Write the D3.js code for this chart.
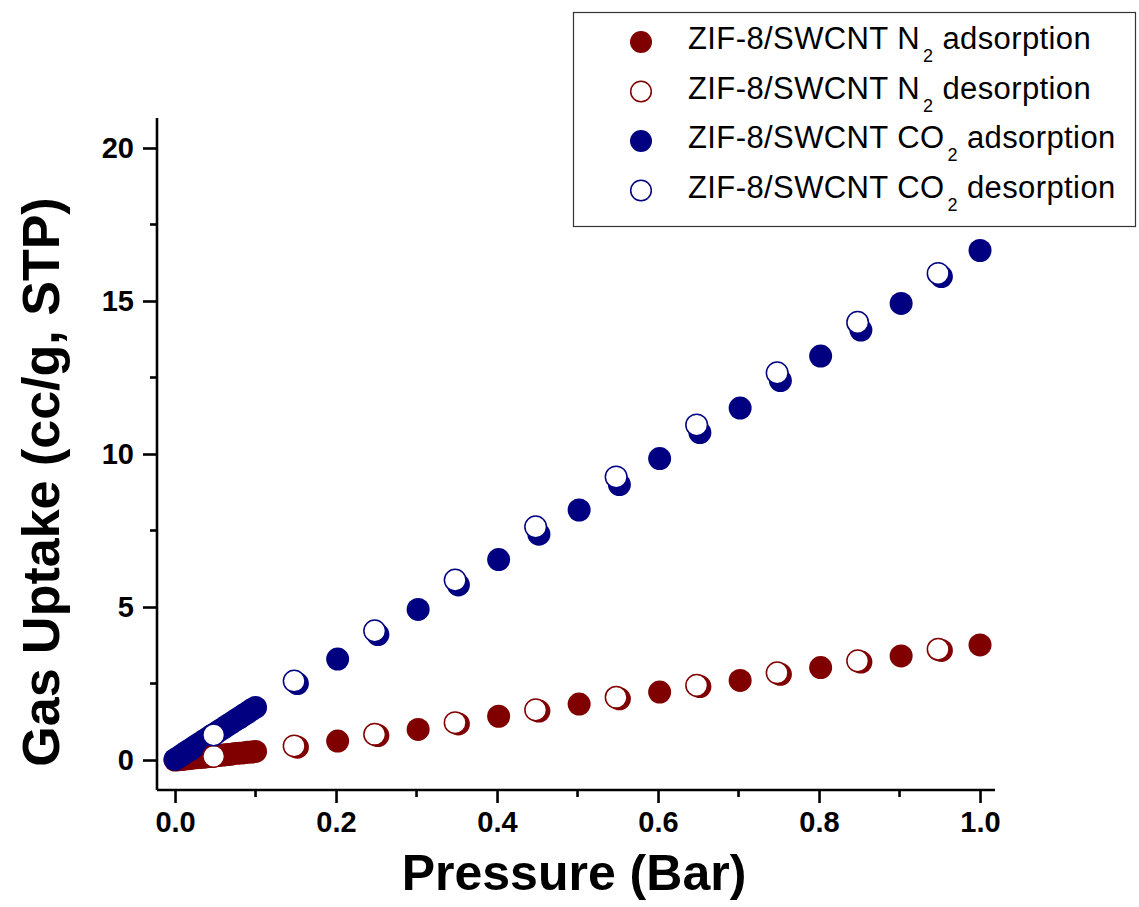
<!DOCTYPE html>
<html>
<head>
<meta charset="utf-8">
<script src="https://cdn.jsdelivr.net/npm/d3@7"></script>
<style>
  body { margin: 0; background: #fff; }
  svg { display: block; font-family: Arial, "Liberation Sans", sans-serif; }
  .axis path, .axis line { stroke: #000; stroke-width: 2.6; }
  .axis text { font-size: 29px; font-weight: bold; fill: #000; font-family: Arial, "Liberation Sans", sans-serif; }
  .title { font-weight: bold; }
</style>
</head>
<body>
<div id="vis"></div>
<script>
// Gas uptake isotherms for ZIF-8/SWCNT

/* *************************** Data ***************************** */

// N2 adsorption: dense run up to 0.1 bar, then every 0.05 bar
var n2AdsP = [0, 0.005, 0.01, 0.015, 0.02, 0.025, 0.03, 0.035, 0.04, 0.045, 0.05, 0.055, 0.06, 0.065, 0.07, 0.075, 0.08, 0.085, 0.09, 0.095, 0.1,
    0.152, 0.202, 0.252, 0.302, 0.352, 0.402, 0.452, 0.502, 0.552, 0.602, 0.652, 0.702, 0.752, 0.802, 0.852, 0.902, 0.952, 1.0];
var n2AdsV = [0.0, 0.01, 0.02, 0.04, 0.05, 0.07, 0.08, 0.09, 0.11, 0.12, 0.14, 0.15, 0.16, 0.18, 0.19, 0.21, 0.22, 0.23, 0.25, 0.26, 0.28,
    0.42, 0.62, 0.8, 1.0, 1.18, 1.43, 1.6, 1.83, 2.0, 2.22, 2.4, 2.6, 2.8, 3.02, 3.2, 3.4, 3.58, 3.76];

// N2 desorption
var n2DesP = [0.948, 0.848, 0.748, 0.648, 0.548, 0.448, 0.348, 0.248, 0.148, 0.048];
var n2DesV = [3.62, 3.24, 2.85, 2.44, 2.05, 1.64, 1.22, 0.84, 0.46, 0.12];

// CO2 adsorption
var co2AdsP = [0, 0.005, 0.01, 0.015, 0.02, 0.025, 0.03, 0.035, 0.04, 0.045, 0.05, 0.055, 0.06, 0.065, 0.07, 0.075, 0.08, 0.085, 0.09, 0.095, 0.1,
    0.152, 0.202, 0.252, 0.302, 0.352, 0.402, 0.452, 0.502, 0.552, 0.602, 0.652, 0.702, 0.752, 0.802, 0.852, 0.902, 0.952, 1.0];
var co2AdsV = [0.02, 0.1, 0.19, 0.28, 0.36, 0.45, 0.53, 0.62, 0.7, 0.79, 0.87, 0.96, 1.04, 1.13, 1.21, 1.3, 1.38, 1.47, 1.55, 1.64, 1.72,
    2.5, 3.3, 4.1, 4.92, 5.72, 6.55, 7.38, 8.17, 9.0, 9.85, 10.7, 11.5, 12.4, 13.2, 14.05, 14.92, 15.8, 16.65];

// CO2 desorption
var co2DesP = [0.948, 0.848, 0.748, 0.648, 0.548, 0.448, 0.348, 0.248, 0.148, 0.048];
var co2DesV = [15.9, 14.3, 12.65, 10.95, 9.25, 7.62, 5.88, 4.22, 2.58, 0.82];

var xTicks = [0, 0.2, 0.4, 0.6, 0.8, 1.0];
var xMinor = [0.1, 0.3, 0.5, 0.7, 0.9];
var yTicks = [0, 5, 10, 15, 20];
var yMinor = [2.5, 7.5, 12.5, 17.5];

var series = [
    { gas: 'N', sub: '2', kind: 'adsorption', color: '#800000', filled: true, p: n2AdsP, v: n2AdsV },
    { gas: 'N', sub: '2', kind: 'desorption', color: '#800000', filled: false, p: n2DesP, v: n2DesV },
    { gas: 'CO', sub: '2', kind: 'adsorption', color: '#000080', filled: true, p: co2AdsP, v: co2AdsV },
    { gas: 'CO', sub: '2', kind: 'desorption', color: '#000080', filled: false, p: co2DesP, v: co2DesV }
];

/* *************************** Settings ***************************** */

var width = 1139;
var height = 907;
var margin = { left: 157, top: 118, right: 144, bottom: 117 };
var drawWidth = width - margin.left - margin.right;
var drawHeight = height - margin.top - margin.bottom;

var svg = d3.select('#vis')
    .append('svg')
    .attr('width', width)
    .attr('height', height);

var g = svg.append('g')
    .attr('transform', 'translate(' + margin.left + ',' + margin.top + ')');

var xScale = d3.scaleLinear().domain([-0.0224, 1.0186]).range([0, drawWidth]);
var yScale = d3.scaleLinear().domain([-0.98, 20.98]).range([drawHeight, 0]);

/* *************************** Axes ***************************** */

var xAxis = g.append('g')
    .attr('class', 'axis')
    .attr('transform', 'translate(0,' + drawHeight + ')')
    .call(d3.axisBottom(xScale).tickValues(xTicks).tickFormat(d3.format('.1f')).tickSize(13).tickSizeOuter(0).tickPadding(8));
xAxis.select('.domain').attr('d', 'M0,0H' + drawWidth);

xAxis.selectAll('.minor')
    .data(xMinor)
    .enter().append('line')
    .attr('class', 'minor')
    .attr('x1', function(d) { return xScale(d); })
    .attr('x2', function(d) { return xScale(d); })
    .attr('y1', 0)
    .attr('y2', 7);

var yAxis = g.append('g')
    .attr('class', 'axis')
    .call(d3.axisLeft(yScale).tickValues(yTicks).tickSize(14).tickSizeOuter(0).tickPadding(9));
yAxis.select('.domain').attr('d', 'M0,0V' + drawHeight);

yAxis.selectAll('.minor')
    .data(yMinor)
    .enter().append('line')
    .attr('class', 'minor')
    .attr('x1', 0)
    .attr('x2', -7)
    .attr('y1', function(d) { return yScale(d); })
    .attr('y2', function(d) { return yScale(d); });

svg.append('text')
    .attr('class', 'title')
    .attr('x', 574)
    .attr('y', 890)
    .attr('text-anchor', 'middle')
    .style('font-size', '50px')
    .text('Pressure (Bar)');

svg.append('text')
    .attr('class', 'title')
    .attr('transform', 'translate(59,482) rotate(-90)')
    .attr('text-anchor', 'middle')
    .style('font-size', '52px')
    .text('Gas Uptake (cc/g, STP)');

/* *************************** Points ***************************** */

// adsorption first, then desorption on top
var drawOrder = [series[0], series[2], series[1], series[3]];

drawOrder.forEach(function(s) {
    var pts = s.p.map(function(p, i) { return { p: p, v: s.v[i] }; });
    g.append('g').selectAll('circle')
        .data(pts)
        .enter().append('circle')
        .attr('cx', function(d) { return xScale(d.p); })
        .attr('cy', function(d) { return yScale(d.v); })
        .attr('r', s.filled ? 11.5 : 10.8)
        .attr('fill', s.filled ? s.color : '#fff')
        .attr('stroke', s.color)
        .attr('stroke-width', s.filled ? 0 : 1.5);
});

/* *************************** Legend ***************************** */

var legend = svg.append('g');
legend.append('rect')
    .attr('x', 573.5)
    .attr('y', 12.5)
    .attr('width', 562)
    .attr('height', 214)
    .attr('fill', '#fff')
    .attr('stroke', '#333')
    .attr('stroke-width', 1.2);

series.forEach(function(s, i) {
    var cy = 42 + i * 49.5;
    legend.append('circle')
        .attr('cx', 641)
        .attr('cy', cy)
        .attr('r', s.filled ? 11 : 10.3)
        .attr('fill', s.filled ? s.color : '#fff')
        .attr('stroke', s.color)
        .attr('stroke-width', s.filled ? 0 : 1.5);
    var t = legend.append('text')
        .attr('x', 688)
        .attr('y', cy + 7)
        .style('font-size', '31px')
        .style('letter-spacing', '0.4px');
    t.append('tspan').text('ZIF-8/SWCNT ' + s.gas);
    t.append('tspan').attr('dx', 3).attr('dy', 13).style('font-size', '18px').text(s.sub);
    t.append('tspan').attr('dy', -13).text(' ' + s.kind);
});
</script>
</body>
</html>
